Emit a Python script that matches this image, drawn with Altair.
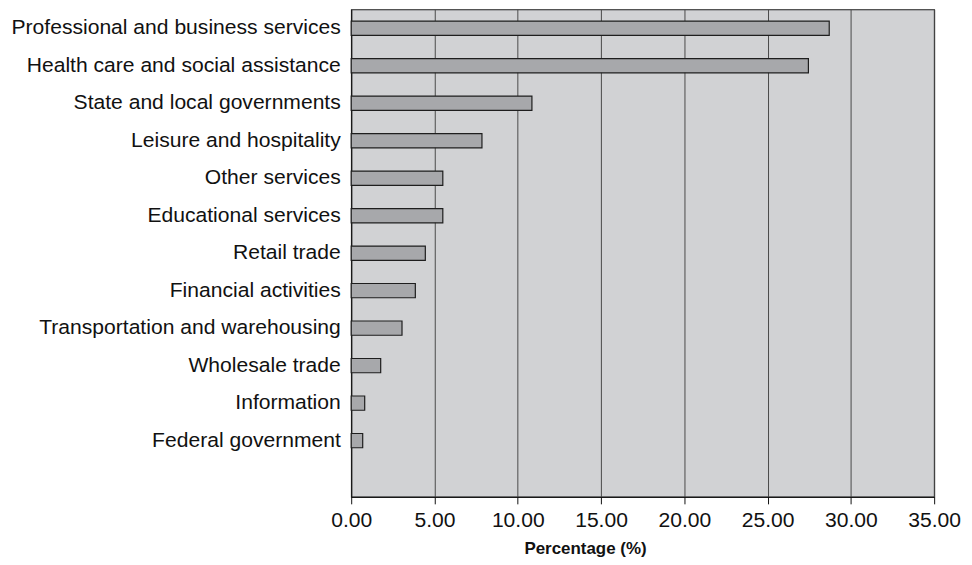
import altair as alt
import pandas as pd

categories = [
    "Professional and business services",
    "Health care and social assistance",
    "State and local governments",
    "Leisure and hospitality",
    "Other services",
    "Educational services",
    "Retail trade",
    "Financial activities",
    "Transportation and warehousing",
    "Wholesale trade",
    "Information",
    "Federal government",
]
values = [28.7, 27.45, 10.85, 7.85, 5.5, 5.5, 4.45, 3.85, 3.05, 1.77, 0.81, 0.69]
x_ticks = [0, 5, 10, 15, 20, 25, 30, 35]

df = pd.DataFrame({"category": categories, "value": values})
y_domain = categories + [" "]

FONT = "Liberation Sans"

chart = (
    alt.Chart(df)
    .mark_bar(fill="#a7a8ab", stroke="#1e1e1e", strokeWidth=1.2)
    .encode(
        x=alt.X(
            "value:Q",
            scale=alt.Scale(domain=[0, 35], nice=False),
            axis=alt.Axis(
                values=x_ticks,
                format=".2f",
                title="Percentage (%)",
                grid=True,
                gridColor="#4a4a4a",
                gridWidth=1,
                domainColor="#111",
                tickColor="#111",
                tickSize=7,
                labelFontSize=21.2,
                labelColor="#111",
                labelPadding=6,
                labelFlush=False,
                labelOverlap=False,
                titleFontSize=17,
                titleFontWeight="bold",
                titleColor="#111",
                titlePadding=10,
                titleX=235,
                titleAlign="center",
            ),
        ),
        y=alt.Y(
            "category:N",
            scale=alt.Scale(domain=y_domain, paddingInner=0.62, paddingOuter=0.31),
            axis=alt.Axis(
                title=None,
                ticks=False,
                grid=False,
                domainColor="#111",
                labelFontSize=21.2,
                labelColor="#111",
                labelPadding=11,
                labelLimit=400,
            ),
        ),
    )
    .properties(
        width=586,
        height=490,
        autosize=alt.AutoSizeParams(type="none"),
        padding={"left": 345, "top": 0, "right": 30, "bottom": 60},
    )
    .configure(font=FONT)
    .configure_view(fill="#d1d2d4", stroke="#1e1e1e", strokeWidth=1.2)
)

chart.save("out.html", embed_options={"renderer": "svg", "actions": False})
